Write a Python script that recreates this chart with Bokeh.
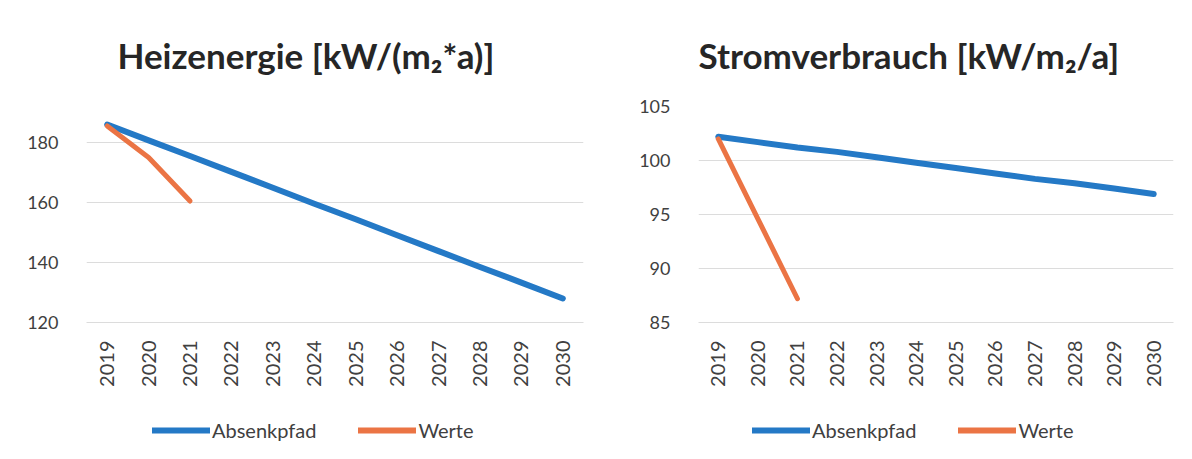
from bokeh.plotting import figure
from bokeh.layouts import row, column
from bokeh.models import FactorRange, Range1d, Legend, LegendItem, FixedTicker, Title
from bokeh.embed import file_html
from bokeh.resources import INLINE
import math

years = ["2019", "2020", "2021", "2022", "2023", "2024", "2025", "2026", "2027", "2028", "2029", "2030"]
werte_years = ["2019", "2020", "2021"]

heiz_absenkpfad = [186.0, 180.7, 175.5, 170.2, 164.9, 159.6, 154.4, 149.1, 143.8, 138.5, 133.3, 128.0]
heiz_werte = [185.5, 175.0, 160.5]
heiz_ticks = [120, 140, 160, 180]

strom_absenkpfad = [102.2, 101.7, 101.2, 100.8, 100.3, 99.8, 99.3, 98.8, 98.3, 97.9, 97.4, 96.9]
strom_werte = [102.0, 94.6, 87.2]
strom_ticks = [85, 90, 95, 100, 105]

series_names = ["Absenkpfad", "Werte"]

BLUE = "#2479c6"
ORANGE = "#eb7444"
FONT = "Lato"
TXT = "#404040"


def panel(title, absenk, werte, y0, y1, ticks, width, bl, br, toff, leg_x):
    p = figure(width=width, height=408, x_range=FactorRange(*years),
               y_range=Range1d(y0, y1), output_backend="svg", toolbar_location=None,
               min_border_left=bl, min_border_right=br, min_border_top=106,
               min_border_bottom=86, title_location=None)
    p.outline_line_color = None
    # spacer title (closest to the frame) pushes the real title upwards
    p.add_layout(Title(text=" ", text_font_size="12px"), "above")
    p.add_layout(Title(text=title, align="left", offset=toff, text_font=FONT,
                       text_font_size="35px", text_font_style="bold",
                       text_color="#262626"), "above")

    p.line(years, absenk, line_color=BLUE, line_width=6, line_cap="round", line_join="round")
    p.line(werte_years, werte, line_color=ORANGE, line_width=5, line_cap="round", line_join="round")

    p.xgrid.grid_line_color = None
    p.ygrid.grid_line_color = "#dcdcdc"
    p.ygrid.grid_line_width = 1
    p.yaxis.ticker = FixedTicker(ticks=ticks)
    p.yaxis.axis_line_color = None
    p.yaxis.major_tick_line_color = None
    p.yaxis.minor_tick_line_color = None
    p.yaxis.major_label_text_font = FONT
    p.yaxis.major_label_text_font_size = "18px"
    p.yaxis.major_label_text_color = TXT
    p.yaxis.major_label_standoff = 22

    p.xaxis.axis_line_color = "#dcdcdc"
    p.xaxis.major_tick_line_color = None
    p.xaxis.minor_tick_line_color = None
    p.xaxis.major_label_orientation = math.pi / 2
    p.xaxis.major_label_text_font = FONT
    p.xaxis.major_label_text_font_size = "20px"
    p.xaxis.major_label_text_color = TXT
    p.xaxis.major_label_standoff = 12

    # legend strip below the chart; its series lie outside its (0..1) range, only the legend shows
    lf = figure(width=width, height=43, output_backend="svg", toolbar_location=None,
                x_range=FactorRange(*years), y_range=Range1d(0, 1),
                min_border_left=bl, min_border_right=br, min_border_top=0, min_border_bottom=0)
    lf.axis.visible = False
    lf.grid.grid_line_color = None
    lf.outline_line_color = None
    e1 = lf.line(years, absenk, line_color=BLUE, line_width=6, line_cap="round")
    e2 = lf.line(werte_years, werte, line_color=ORANGE, line_width=6, line_cap="round")
    legend = Legend(items=[LegendItem(label=series_names[0], renderers=[e1]),
                           LegendItem(label=series_names[1], renderers=[e2])],
                    orientation="horizontal", location=(leg_x, 9))
    legend.border_line_color = None
    legend.background_fill_alpha = 0
    legend.label_text_font = FONT
    legend.label_text_font_size = "20px"
    legend.label_text_color = TXT
    legend.glyph_width = 58
    legend.glyph_height = 20
    legend.label_standoff = 2
    legend.spacing = 42
    legend.padding = 0
    legend.margin = 0
    lf.add_layout(legend)
    return column(p, lf)


c1 = panel("Heizenergie [kW/(m\u2082*a)]", heiz_absenkpfad, heiz_werte, 120, 192, heiz_ticks,
           612, 86, 29, 31, 66)
c2 = panel("Stromverbrauch [kW/m\u2082/a]", strom_absenkpfad, strom_werte, 85, 105, strom_ticks,
           572, 86, 11, 0, 54)

layout = row(c1, c2)
open("out.html", "w").write(file_html(layout, INLINE))
